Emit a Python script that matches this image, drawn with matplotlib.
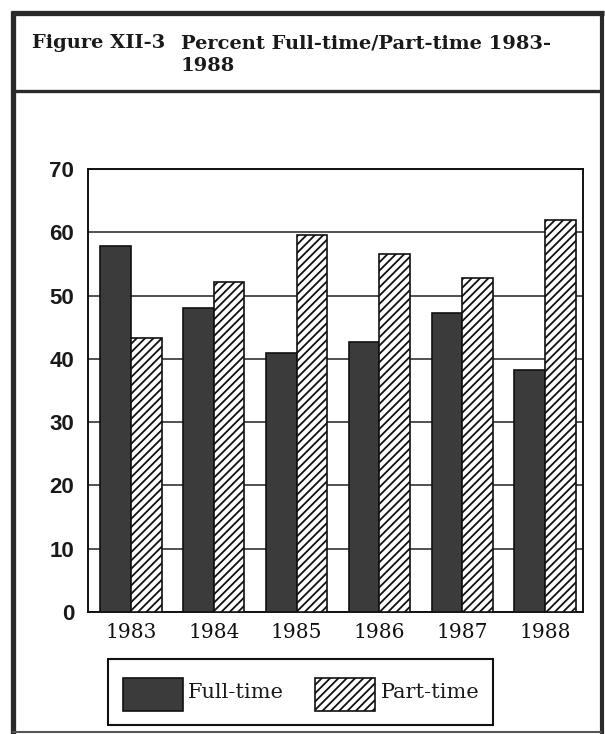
import matplotlib
matplotlib.use("Agg")
import matplotlib.pyplot as plt
from matplotlib.patches import Rectangle
from matplotlib.lines import Line2D
import numpy as np

years = ["1983", "1984", "1985", "1986", "1987", "1988"]
full_time = [57.8, 48.1, 40.9, 42.6, 47.2, 38.2]
part_time = [43.3, 52.1, 59.6, 56.6, 52.8, 62.0]
yticks = [0, 10, 20, 30, 40, 50, 60, 70]

W, H = 605, 734
fig = plt.figure(figsize=(W / 100, H / 100), dpi=100)
plt.rcParams['hatch.linewidth'] = 1.3


def fx(px):
    return px / W


def fy(py):
    return 1 - py / H


# Outer frame and title box
frame_col = "#2a2a2a"
line_kw = dict(solid_capstyle="butt")
fig.add_artist(Line2D([fx(12.5), fx(12.5)], [fy(10.5), fy(734)], color=frame_col, lw=3.8, **line_kw))
fig.add_artist(Line2D([fx(602), fx(602)], [fy(10.5), fy(734)], color=frame_col, lw=3.0, **line_kw))
fig.add_artist(Line2D([fx(10.5), fx(603.5)], [fy(12.5), fy(12.5)], color=frame_col, lw=3.8, **line_kw))
fig.add_artist(Line2D([fx(12), fx(602)], [fy(90.5), fy(90.5)], color=frame_col, lw=2.4, **line_kw))
fig.add_artist(Line2D([fx(12), fx(602)], [fy(732), fy(732)], color="#555555", lw=1.5, **line_kw))

title_font = dict(family="DejaVu Serif", weight="bold", size=14, color="#1a1a1a")
fig.text(fx(32), fy(43), "Figure XII-3", va="center", ha="left", **title_font)
fig.text(fx(181), fy(43), "Percent Full-time/Part-time 1983-", va="center", ha="left", **title_font)
fig.text(fx(181), fy(66), "1988", va="center", ha="left", **title_font)

# Plot area
ax = fig.add_axes([fx(88), fy(612), fx(583) - fx(88), fy(169) - fy(612)])
x = np.arange(len(years))
w = 0.37
dark = "#3b3b3b"
ax.bar(x - w / 2, full_time, width=w, color=dark, edgecolor="#111111", linewidth=1.2, zorder=3)
ax.bar(x + w / 2, part_time, width=w, color="white", edgecolor="#111111", hatch="////",
       linewidth=1.2, zorder=3)

ax.set_xlim(-0.52, 5.46)
ax.set_ylim(0, 70)
ax.set_yticks(yticks)
ax.set_yticklabels([str(v) for v in yticks], family="Liberation Sans", weight="bold",
                   size=16, color="#1a1a1a")
ax.set_xticks(x)
ax.set_xticklabels(years, family="DejaVu Serif", size=14.5, color="#111111")
ax.tick_params(axis="both", length=0)
ax.tick_params(axis="x", pad=8)
ax.tick_params(axis="y", pad=10)
ax.grid(axis="y", color="#222222", linewidth=1.1, zorder=0)
for s in ax.spines.values():
    s.set_linewidth(1.4)
    s.set_color("#111111")

# Legend box
fig.add_artist(Rectangle((fx(108), fy(725)), fx(493) - fx(108), fy(659) - fy(725),
                         fill=False, edgecolor="#111111", lw=1.5))
fig.add_artist(Rectangle((fx(123), fy(711)), fx(183) - fx(123), fy(678) - fy(711),
                         facecolor=dark, edgecolor="#111111", lw=1.2))
fig.add_artist(Rectangle((fx(315), fy(711)), fx(375) - fx(315), fy(678) - fy(711),
                         facecolor="white", edgecolor="#111111", hatch="////", lw=1.2))
leg_font = dict(family="DejaVu Serif", size=15, color="#1a1a1a", va="center", ha="left")
fig.text(fx(188), fy(692), "Full-time", **leg_font)
fig.text(fx(381), fy(692), "Part-time", **leg_font)

fig.savefig("out.png", dpi=100, facecolor="white")
